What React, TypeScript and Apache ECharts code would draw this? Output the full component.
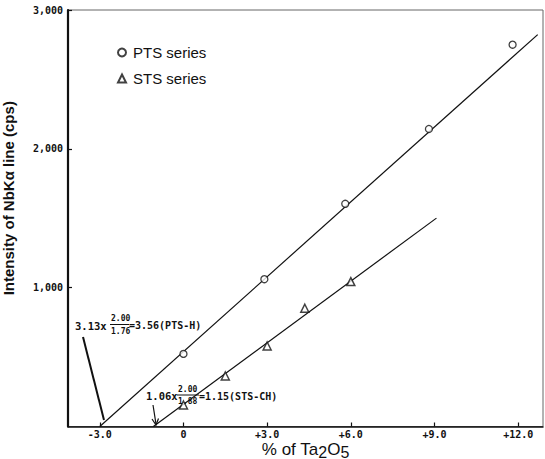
import React, { useEffect, useRef } from "react";
import * as echarts from "echarts";

// Data
const ptsX = [0, 2.9, 5.8, 8.8, 11.8];
const ptsY = [523, 1061, 1604, 2143, 2750];
const stsX = [0, 1.5, 3.0, 4.35, 6.0];
const stsY = [155, 364, 580, 852, 1044];
const ptsFitX = [-3.0, 12.7];
const ptsFitY = [0, 2823];
const stsFitX = [-1.08, 9.07];
const stsFitY = [0, 1501];
const xTickValues = [-3, 0, 3, 6, 9, 12];
const yTickValues = [1000, 2000, 3000];

const zip = (a: number[], b: number[]) => a.map((v, i) => [v, b[i]]);

const MONO = '"DejaVu Sans Mono", "Liberation Mono", monospace';
const SANS = '"Liberation Sans", Arial, sans-serif';

export default function App() {
  const ref = useRef<HTMLDivElement>(null);
  useEffect(() => {
    if (!ref.current) return;
    const chart = echarts.init(ref.current, null, { renderer: "svg" });
    const monoText = (x: number, y: number, text: string, size: number) => ({
      type: "text",
      x,
      y,
      style: {
        text,
        font: `bold ${size}px ${MONO}`,
        fill: "#111",
        verticalAlign: "middle",
        align: "left",
      },
    });
    chart.setOption({
      animation: false,
      backgroundColor: "#fff",
      grid: {
        left: 68,
        right: 2,
        top: 10,
        bottom: 32.5,
        outerBoundsMode: "none",
        containLabel: false,
        show: true,
        borderColor: "#666",
        borderWidth: 1,
      },
      legend: {
        orient: "vertical",
        left: 112,
        top: 40,
        itemGap: 11,
        itemWidth: 8,
        itemHeight: 8,
        data: ["PTS series", "STS series"],
        textStyle: { fontFamily: SANS, fontSize: 15, color: "#111", padding: [0, 0, 0, 2] },
      },
      xAxis: {
        type: "value",
        min: -4.14,
        max: 12.89,
        splitLine: { show: false },
        axisLine: { onZero: false, lineStyle: { color: "#111", width: 1.5 } },
        axisTick: {
          inside: true,
          length: 4,
          customValues: xTickValues,
          lineStyle: { color: "#111", width: 1.2 },
        },
        axisLabel: {
          customValues: xTickValues,
          margin: 3,
          fontFamily: MONO,
          fontWeight: "bold",
          fontSize: 10,
          color: "#111",
          formatter: (v: number) => (v === 0 ? "0" : (v > 0 ? "+" : "") + v.toFixed(1)),
        },
        name: "{a|% of Ta}{s|2}{a|O}{s|5}",
        nameLocation: "middle",
        nameGap: 15,
        nameMoveOverlap: false,
        nameTextStyle: {
          rich: {
            a: { fontFamily: SANS, fontSize: 17, color: "#111", lineHeight: 16 },
            s: { fontFamily: SANS, fontSize: 16, color: "#111", lineHeight: 16, padding: [5, 0, 0, 0] },
          },
        },
      },
      yAxis: {
        type: "value",
        min: 0,
        max: 3000,
        interval: 1000,
        splitLine: { show: false },
        axisLine: { show: true, onZero: false, lineStyle: { color: "#111", width: 2.2 } },
        axisTick: {
          inside: true,
          length: 4,
          customValues: yTickValues,
          lineStyle: { color: "#111", width: 1.2 },
        },
        axisLabel: {
          customValues: yTickValues,
          margin: 5,
          fontFamily: MONO,
          fontWeight: "bold",
          fontSize: 10,
          color: "#111",
          formatter: (v: number) => v.toLocaleString("en-US"),
        },
        name: "Intensity of NbKα line (cps)",
        nameLocation: "middle",
        nameGap: 52,
        nameMoveOverlap: false,
        nameRotate: 90,
        nameTextStyle: {
          fontFamily: SANS,
          fontWeight: "bold",
          fontSize: 15,
          color: "#111",
          padding: [0, 0, 0, 40],
        },
      },
      series: [
        {
          type: "line",
          data: zip(ptsFitX, ptsFitY),
          showSymbol: false,
          lineStyle: { color: "#111", width: 1.2 },
          silent: true,
        },
        {
          type: "line",
          data: zip(stsFitX, stsFitY),
          showSymbol: false,
          lineStyle: { color: "#111", width: 1.2 },
          silent: true,
        },
        {
          name: "PTS series",
          type: "scatter",
          data: zip(ptsX, ptsY),
          symbol: "circle",
          symbolSize: 7,
          itemStyle: { color: "#fff", borderColor: "#111", borderWidth: 1.3 },
          z: 5,
        },
        {
          name: "STS series",
          type: "scatter",
          data: zip(stsX, stsY),
          symbol: "triangle",
          symbolSize: 8,
          itemStyle: { color: "#fff", borderColor: "#111", borderWidth: 1.5 },
          z: 5,
        },
      ],
      graphic: [
        // PTS annotation
        monoText(75, 326, "3.13x", 10.5),
        monoText(111, 318, "2.00", 8),
        { type: "line", shape: { x1: 110, y1: 324.5, x2: 129, y2: 324.5 }, style: { stroke: "#111", lineWidth: 1 } },
        monoText(111, 331, "1.76", 8),
        monoText(129, 325, "=3.56(PTS-H)", 10),
        { type: "line", shape: { x1: 83, y1: 337, x2: 104, y2: 420 }, style: { stroke: "#111", lineWidth: 2 } },
        // STS annotation
        monoText(146, 396, "1.06x", 10.5),
        monoText(178, 389, "2.00", 8),
        { type: "line", shape: { x1: 177, y1: 395, x2: 199, y2: 395 }, style: { stroke: "#111", lineWidth: 1 } },
        monoText(178, 401, "1.88", 8),
        monoText(199, 396, "=1.15(STS-CH)", 10),
        { type: "line", shape: { x1: 153, y1: 405, x2: 156, y2: 424 }, style: { stroke: "#111", lineWidth: 1.2 } },
        { type: "polyline", shape: { points: [[152, 419], [156, 425], [158.5, 418.5]] }, style: { stroke: "#111", lineWidth: 1.2, fill: "none" } },
      ],
    });
    return () => chart.dispose();
  }, []);
  return (
    <div
      ref={ref}
      style={{ position: "absolute", left: 0, top: 0, width: 545, height: 459, background: "#fff" }}
    />
  );
}
